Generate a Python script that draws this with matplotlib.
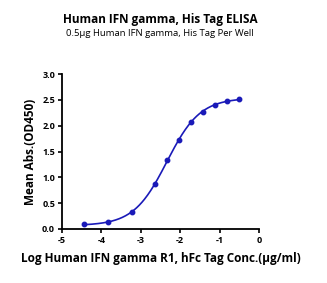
import numpy as np
import matplotlib
matplotlib.use("Agg")
import matplotlib.pyplot as plt

plt.rcParams['font.family'] = ['Open Sans', 'DejaVu Sans']

log_conc = [-4.44, -3.83, -3.23, -2.63, -2.33, -2.03, -1.72, -1.42, -1.12, -0.82, -0.52]
od450 = [0.09, 0.14, 0.32, 0.88, 1.34, 1.73, 2.07, 2.27, 2.40, 2.48, 2.51]
xticks = [-5, -4, -3, -2, -1, 0]
yticks = [0.0, 0.5, 1.0, 1.5, 2.0, 2.5, 3.0]

x = np.array(log_conc)
y = np.array(od450)

def f(p, x):
    bot, top, lec, h = p
    return bot + (top - bot) / (1 + 10 ** ((lec - x) * h))

# simple Levenberg-Marquardt fit of 4PL
p = np.array([0.05, 2.55, -2.3, 1.0])
lam = 1e-2
for _ in range(300):
    r = y - f(p, x)
    J = np.zeros((len(x), 4))
    for i in range(4):
        dp = np.zeros(4); dp[i] = 1e-6
        J[:, i] = (f(p + dp, x) - f(p - dp, x)) / 2e-6
    A = J.T @ J
    g = J.T @ r
    step = np.linalg.solve(A + lam * np.diag(np.diag(A)), g)
    pn = p + step
    if np.sum((y - f(pn, x))**2) < np.sum(r**2):
        p = pn; lam *= 0.5
    else:
        lam *= 3

xs = np.linspace(x.min(), x.max(), 300)

fig = plt.figure(figsize=(3.27, 2.83), dpi=100)
ax = fig.add_axes([62/327, 1-229/283, (259-62)/327, (229-74)/283])
col = '#1a1ab8'
ax.plot(xs, f(p, xs), color=col, lw=1.2)
ax.plot(x, y, 'o', color=col, ms=3.2)
ax.set_xlim(-5, 0)
ax.set_ylim(0, 3.0)
ax.set_xticks(xticks)
ax.set_yticks(yticks)
ax.set_xticklabels([str(t) for t in xticks], fontweight='bold', fontsize=6.5)
ax.set_yticklabels([f"{t:.1f}" for t in yticks], fontweight='bold', fontsize=6.5)
for s in ['top', 'right']:
    ax.spines[s].set_visible(False)
for s in ['left', 'bottom']:
    ax.spines[s].set_linewidth(1.3)
ax.tick_params(width=1.2, length=3, pad=2)
ax.set_xlabel("Log Human IFN gamma R1, hFc Tag Conc.(μg/ml)", fontweight='bold', fontsize=8.5, labelpad=5)
ax.set_ylabel("Mean Abs.(OD450)", fontweight='bold', fontsize=8.5, labelpad=4)
fig.text(160/327, 1-19/283, "Human IFN gamma, His Tag ELISA", ha='center', va='center', fontweight='bold', fontsize=8.5)
fig.text(160/327, 1-34/283, "0.5μg Human IFN gamma, His Tag Per Well", ha='center', va='center', fontsize=6.8)
fig.savefig("out.png", dpi=100)
